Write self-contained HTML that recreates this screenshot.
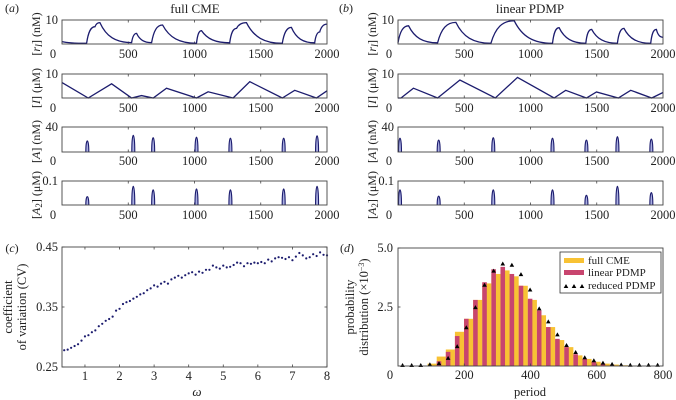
<!DOCTYPE html>
<html><head><meta charset="utf-8"><style>
html,body{margin:0;padding:0;background:#fff;}
svg{display:block;font-family:"Liberation Serif",serif;}
</style></head><body>
<svg id="fig" width="676" height="400" viewBox="0 0 676 400" xmlns="http://www.w3.org/2000/svg"></svg>
<script>
// ---------- DATA ----------
const tickTime = [500, 1000, 1500, 2000];
// (a) full CME
const cmeRT = [0, 186, 249, 286, 525, 563, 676, 759, 1015, 1053, 1266, 1317, 1392, 1663, 1731, 1907, 1945, 2000];
const cmeRV = [1.0, 0.3, 7.2, 8.9, 0.6, 4.4, 0.6, 7.9, 0.3, 5.6, 0.5, 6.5, 8.9, 0.3, 6.9, 0.5, 5.0, 8.3];
const cmeIT = [0, 198, 374, 525, 600, 688, 789, 1015, 1103, 1291, 1417, 1663, 1756, 1920, 2000];
const cmeIV = [6.4, 0, 5.9, 0, 1.0, 0, 4.1, 0, 2.6, 0, 6.8, 0, 3.2, 0, 3.0];
const cmeAT = [191, 538, 688, 1015, 1271, 1673, 1925];
const cmeAV = [22, 34, 29, 30, 28, 28, 33];
const cmeA2V = [0.042, 0.1, 0.08, 0.085, 0.08, 0.085, 0.1];
// (b) linear PDMP
const pdRT = [0, 80, 299, 437, 701, 877, 1166, 1216, 1417, 1462, 1656, 1706, 1907, 1950, 2000];
const pdRV = [0.5, 7.6, 0.5, 9.0, 0.3, 9.7, 0.3, 6.8, 0.3, 6.1, 0.3, 6.5, 0.3, 6.1, 2.8];
const pdIT = [0, 23, 116, 299, 467, 734, 902, 1178, 1266, 1422, 1498, 1663, 1756, 1915, 2000];
const pdIV = [0, 0, 4.1, 0, 7.5, 0, 8.6, 0, 3.2, 0, 2.5, 0, 3.2, 0, 2.3];
const pdAT = [15, 307, 719, 1166, 1422, 1656, 1912];
const pdAV = [28, 24, 29, 28, 24, 31, 26];
const pdA2V = [0.08, 0.045, 0.08, 0.08, 0.05, 0.1, 0.065];
// (c) CV vs omega
const omega = [];
for (let i = 0; i < 77; i++) omega.push(+(0.4 + i * 0.1).toFixed(1));
const cvValues = [0.278,0.279,0.282,0.285,0.288,0.294,0.301,0.303,0.308,0.311,0.318,0.322,0.327,0.330,0.334,0.344,0.347,0.355,0.358,0.360,0.364,0.367,0.371,0.373,0.378,0.381,0.386,0.384,0.389,0.392,0.389,0.396,0.399,0.402,0.399,0.403,0.406,0.408,0.404,0.409,0.407,0.412,0.412,0.419,0.416,0.414,0.419,0.416,0.417,0.420,0.424,0.423,0.418,0.423,0.422,0.424,0.423,0.425,0.423,0.429,0.426,0.431,0.433,0.432,0.430,0.433,0.428,0.434,0.440,0.436,0.431,0.433,0.438,0.435,0.441,0.437,0.436];
const cvTicksX = [1,2,3,4,5,6,7,8];
const cvTicksY = [0.25, 0.35, 0.45];
// (d) period distribution
const binCenters = [];
for (let k = 0; k < 29; k++) binCenters.push(13.75 + 27.5 * k);
const fullCME = [0,0,0,0.1,0.4,0.7,1.45,2.0,2.8,3.5,3.9,4.05,3.8,3.4,2.8,2.15,1.65,1.1,0.8,0.45,0.3,0.18,0.1,0.06,0.03,0.01,0,0,0];
const linearPDMP = [0,0,0,0,0.2,0.6,1.27,2.0,2.8,3.55,4.1,4.2,3.9,3.4,2.85,2.35,1.65,1.15,0.8,0.5,0.3,0.18,0.1,0.05,0.02,0,0,0,0];
const reducedPDMP = [0,0,0,0.03,0.08,0.3,0.8,1.6,2.45,3.4,4.0,4.3,4.25,3.85,3.2,2.4,1.85,1.3,0.85,0.55,0.33,0.2,0.1,0.05,0.02,0.01,0.01,0.01,0.01];
const periodTicks = [200, 400, 600, 800];
const probTicks = [2.5, 5.0];

// ---------- HELPERS ----------
const svg = document.getElementById('fig');
const NS = 'http://www.w3.org/2000/svg';
const NAVY = '#1c1c6e';
const FS = 12.5;
function mk(tag, attrs, name, parent) {
  const e = document.createElementNS(NS, tag);
  for (const k in attrs) e.setAttribute(k, attrs[k]);
  
  
  (parent || svg).appendChild(e);
  return e;
}
function txt(x, y, s, name, opts) {
  opts = opts || {};
  const t = mk('text', {x: x, y: y, 'font-size': opts.size || FS, 'text-anchor': opts.anchor || 'middle', fill: '#222'}, name, opts.parent);
  if (opts.rot) t.setAttribute('transform', 'rotate(-90 ' + x + ' ' + y + ')');
  if (opts.italic) t.setAttribute('font-style', 'italic');
  if (opts.html) t.innerHTML = s; else t.textContent = s;
  return t;
}
function scale(d0, d1, r0, r1) { return v => r0 + (v - d0) / (d1 - d0) * (r1 - r0); }
function frame(x0, y0, x1, y1, name) {
  mk('rect', {x: x0, y: y0, width: x1 - x0, height: y1 - y0, fill: 'none', stroke: '#444', 'stroke-width': 0.9}, name);
}
function smoothPath(xs, ys) {
  let d = 'M' + xs[0].toFixed(1) + ',' + ys[0].toFixed(1);
  for (let i = 1; i < xs.length; i++) {
    const x0 = xs[i-1], y0 = ys[i-1], x1 = xs[i], y1 = ys[i];
    const dx = x1 - x0, dy = y1 - y0;
    d += ' C' + (x0 + dx * 0.2).toFixed(1) + ',' + (y0 + dy * 0.7).toFixed(1) + ' ' + (x0 + dx * 0.5).toFixed(1) + ',' + y1.toFixed(1) + ' ' + x1.toFixed(1) + ',' + y1.toFixed(1);
  }
  return d;
}

// ---------- TIME-SERIES PANELS ----------
const rows = [[20, 44], [74, 98], [127, 152], [181, 205]];
const rowLabelY = [58, 112, 165, 219];
const rowMax = [10, 10, 40, 0.1];
const rowMaxLabel = ['10', '10', '40', '0.1'];
const rowYLabel = [
  '[<tspan font-style="italic">r</tspan><tspan font-style="italic" font-size="9" dy="2">I</tspan><tspan dy="-2">] (nM)</tspan>',
  '[<tspan font-style="italic">I</tspan>] (μM)',
  '[<tspan font-style="italic">A</tspan>] (nM)',
  '[<tspan font-style="italic">A</tspan><tspan font-size="9" dy="2">2</tspan><tspan dy="-2">] (μM)</tspan>'
];
function tsPanel(px0, px1, ylabX, id, RT, RV, IT, IV, AT, AV, A2V) {
  const sx = scale(0, 2000, px0, px1);
  rows.forEach((r, ri) => {
    const [y0, y1] = r;
    const sy = scale(0, rowMax[ri], y1, y0);
    const g = mk('g', {}, id + '-row-' + (ri + 1));
    tickTime.slice(0, 3).forEach(t => {
      mk('line', {x1: sx(t), x2: sx(t), y1: y1, y2: y1 - 2.5, stroke: '#444', 'stroke-width': 0.8}, 'x-tick', g);
      mk('line', {x1: sx(t), x2: sx(t), y1: y0, y2: y0 + 2.5, stroke: '#444', 'stroke-width': 0.8}, 'x-tick', g);
    });
    if (ri === 0) mk('path', {d: smoothPath(RT.map(sx), RV.map(sy)), fill: 'none', stroke: NAVY, 'stroke-width': 1.3}, id + '-rI-line', g);
    if (ri === 1) mk('path', {d: smoothPath(IT.map(sx), IV.map(sy)).replace(/C[^ ]+ [^ ]+ /g, 'L'), fill: 'none', stroke: NAVY, 'stroke-width': 1.3}, id + '-I-line', g);
    if (ri >= 2) {
      const vals = ri === 2 ? AV : A2V;
      AT.forEach((t, k) => {
        const cx = sx(t), top = sy(vals[k]), hw = 1.5;
        const d = 'M' + (cx - hw) + ',' + y1 + ' C' + (cx - hw) + ',' + (top - 1) + ' ' + (cx + hw) + ',' + (top - 1) + ' ' + (cx + hw) + ',' + y1;
        mk('path', {d: d, fill: '#a9aee0', stroke: NAVY, 'stroke-width': 1.1}, id + (ri === 2 ? '-A-spike' : '-A2-spike'), g);
      });
    }
    frame(px0, y0, px1, y1, id + '-row-frame');
    txt(px0 - 4, y0 + 4, rowMaxLabel[ri], 'y-tick-label', {anchor: 'end'});
    txt(px0 - 9, rowLabelY[ri], '0', 'y-tick-label-zero', {anchor: 'middle'});
    tickTime.forEach(t => txt(sx(t), rowLabelY[ri], String(t), 'x-tick-label'));
    txt(ylabX, (y0 + y1) / 2 + 2, rowYLabel[ri], id + '-y-axis-title', {rot: true, html: true, size: 12});
  });
}
tsPanel(62, 327, 40, 'cme', cmeRT, cmeRV, cmeIT, cmeIV, cmeAT, cmeAV, cmeA2V);
tsPanel(398, 663, 376, 'pdmp', pdRT, pdRV, pdIT, pdIV, pdAT, pdAV, pdA2V);
txt(12, 12, '(<tspan font-style="italic">a</tspan>)', 'panel-label-a', {anchor: 'middle', html: true, size: 12});
txt(195, 13, 'full CME', 'panel-a-title', {size: 13});
txt(346, 12, '(<tspan font-style="italic">b</tspan>)', 'panel-label-b', {anchor: 'middle', html: true, size: 12});
txt(530, 13, 'linear PDMP', 'panel-b-title', {size: 13});

// ---------- PANEL C ----------
(function () {
  const x0 = 62, x1 = 327, y0 = 247, y1 = 367;
  const sx = scale(0.336, 8, x0, x1), sy = scale(0.25, 0.45, y1, y0);
  const g = mk('g', {}, 'cv-chart');
  cvTicksX.forEach(v => {
    mk('line', {x1: sx(v), x2: sx(v), y1: y1, y2: y1 - 2.5, stroke: '#444', 'stroke-width': 0.8}, 'x-tick', g);
    mk('line', {x1: sx(v), x2: sx(v), y1: y0, y2: y0 + 2.5, stroke: '#444', 'stroke-width': 0.8}, 'x-tick', g);
    txt(sx(v), 380, String(v), 'x-tick-label', {parent: g});
  });
  cvTicksY.forEach(v => {
    mk('line', {x1: x0, x2: x0 + 2.5, y1: sy(v), y2: sy(v), stroke: '#444', 'stroke-width': 0.8}, 'y-tick', g);
    mk('line', {x1: x1, x2: x1 - 2.5, y1: sy(v), y2: sy(v), stroke: '#444', 'stroke-width': 0.8}, 'y-tick', g);
    txt(x0 - 4, sy(v) + 4, v.toFixed(2), 'y-tick-label', {anchor: 'end', parent: g});
  });
  omega.forEach((w, i) => {
    mk('circle', {cx: sx(w), cy: sy(cvValues[i]), r: 1.1, fill: NAVY}, 'cv-point', g);
  });
  frame(x0, y0, x1, y1, 'cv-frame');
  txt(12, 252, '(<tspan font-style="italic">c</tspan>)', 'panel-label-c', {html: true, size: 12});
  txt(197, 396, 'ω', 'x-axis-title', {italic: true, size: 13});
  txt(12, 307, 'coefficient', 'y-axis-title-line1', {rot: true, size: 12.5});
  txt(26, 307, 'of variation (CV)', 'y-axis-title-line2', {rot: true, size: 12.5});
})();

// ---------- PANEL D ----------
(function () {
  const x0 = 398, x1 = 663, y0 = 248, y1 = 366;
  const sx = scale(0, 800, x0, x1), sy = scale(0, 5, y1, y0);
  const g = mk('g', {}, 'period-chart');
  binCenters.forEach((c, k) => {
    if (fullCME[k] > 0) mk('rect', {x: sx(c - 6.9), y: sy(fullCME[k]), width: sx(c + 20.6) - sx(c - 6.9), height: y1 - sy(fullCME[k]), fill: '#f8c234'}, 'bar-full-cme', g);
  });
  binCenters.forEach((c, k) => {
    if (linearPDMP[k] > 0) mk('rect', {x: sx(c - 6.9), y: sy(linearPDMP[k]), width: sx(c + 6.9) - sx(c - 6.9), height: y1 - sy(linearPDMP[k]), fill: '#c8456e'}, 'bar-linear-pdmp', g);
  });
  binCenters.forEach((c, k) => {
    const cx = sx(c), cy = sy(reducedPDMP[k]);
    mk('path', {d: 'M' + (cx - 2.3) + ',' + (cy + 1) + ' L' + cx + ',' + (cy - 3) + ' L' + (cx + 2.3) + ',' + (cy + 1) + 'Z', fill: '#000'}, 'marker-reduced-pdmp', g);
  });
  periodTicks.concat([0]).forEach(v => {
    txt(sx(v) - (v === 0 ? 8 : 0), 379, String(v), 'x-tick-label', {parent: g});
  });
  periodTicks.forEach(v => {
    mk('line', {x1: sx(v), x2: sx(v), y1: y1, y2: y1 - 2.5, stroke: '#444', 'stroke-width': 0.8}, 'x-tick', g);
  });
  probTicks.forEach(v => {
    mk('line', {x1: x0, x2: x0 + 2.5, y1: sy(v), y2: sy(v), stroke: '#444', 'stroke-width': 0.8}, 'y-tick', g);
    txt(x0 - 5, sy(v) + 4, v.toFixed(1), 'y-tick-label', {anchor: 'end', parent: g});
  });
  frame(x0, y0, x1, y1, 'period-frame');
  const lg = mk('g', {}, 'legend');
  mk('rect', {x: 560, y: 252, width: 101, height: 41, fill: '#fff', stroke: '#333', 'stroke-width': 0.8}, 'legend-box', lg);
  mk('rect', {x: 564, y: 258, width: 20, height: 5, fill: '#f8c234'}, 'legend-swatch-full-cme', lg);
  txt(588, 264, 'full CME', 'legend-entry-full-cme', {anchor: 'start', size: 11, parent: lg});
  mk('rect', {x: 564, y: 270, width: 20, height: 5, fill: '#c8456e'}, 'legend-swatch-linear-pdmp', lg);
  txt(588, 276, 'linear PDMP', 'legend-entry-linear-pdmp', {anchor: 'start', size: 11, parent: lg});
  [566, 574, 582].forEach(x => mk('path', {d: 'M' + (x - 2.3) + ',288 L' + x + ',284 L' + (x + 2.3) + ',288Z', fill: '#000'}, 'legend-marker-reduced-pdmp', lg));
  txt(588, 289, 'reduced PDMP', 'legend-entry-reduced-pdmp', {anchor: 'start', size: 11, parent: lg});
  txt(347, 252, '(<tspan font-style="italic">d</tspan>)', 'panel-label-d', {html: true, size: 12});
  txt(530, 396, 'period', 'x-axis-title', {size: 12.5});
  txt(354, 307, 'probability', 'y-axis-title-line1', {rot: true, size: 12.5});
  txt(368, 307, 'distribution (×10<tspan font-size="8" dy="-4">−3</tspan><tspan dy="4">)</tspan>', 'y-axis-title-line2', {rot: true, html: true, size: 12.5});
})();
</script>
</body></html>
